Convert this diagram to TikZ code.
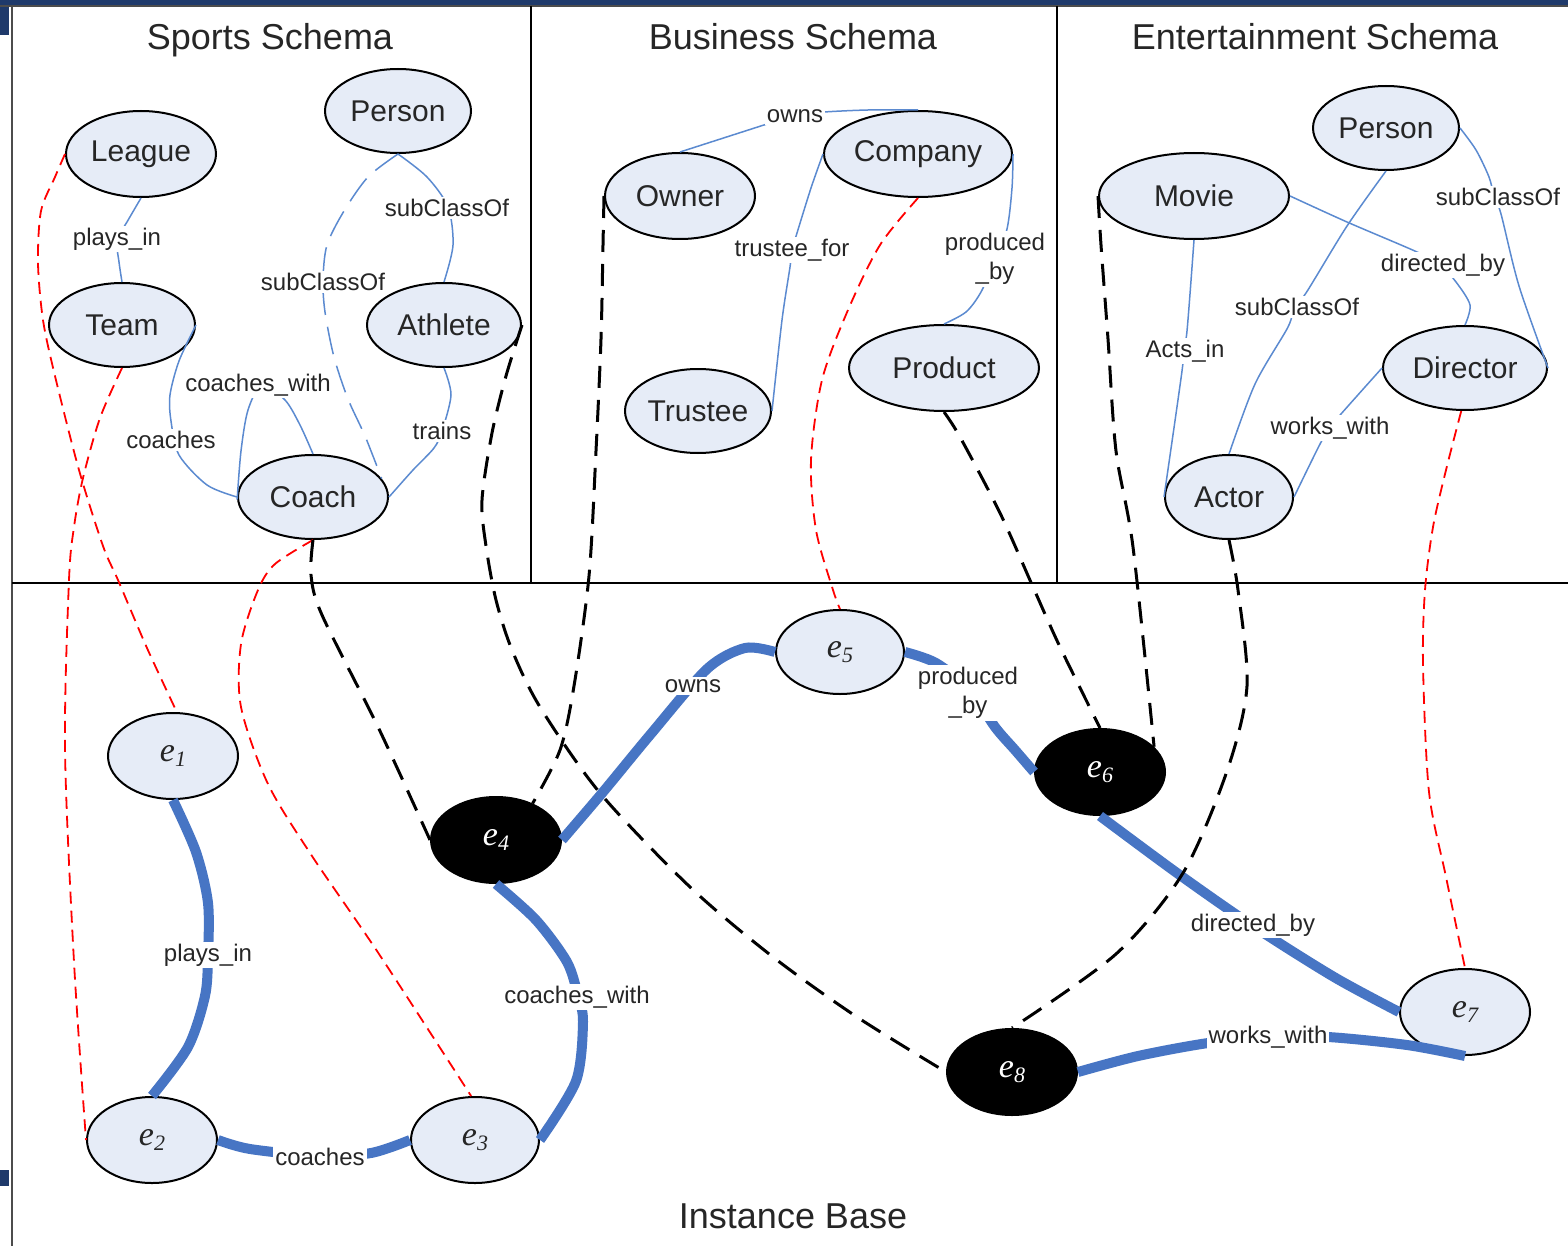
\documentclass[tikz,border=0pt]{standalone}
\usepackage{fontspec}
\setmainfont{Liberation Sans}
\newfontfamily\serifit{Liberation Serif}
\usetikzlibrary{shapes.geometric}
\definecolor{nodefill}{HTML}{E6ECF7}
\definecolor{sblue}{HTML}{5B8AD0}
\definecolor{tblue}{HTML}{4775C4}
\definecolor{navy}{HTML}{1F3A6B}
\definecolor{txt}{HTML}{262626}
\newcommand{\ei}[1]{e\raisebox{-0.3ex}{\fontsize{11}{12}\selectfont #1}}
\tikzset{
 sch/.style={ellipse, draw=black, line width=1pt, fill=nodefill, inner sep=0pt, font=\fontsize{15}{18}\selectfont, text=txt},
 inst/.style={sch, font=\fontsize{17}{19}\selectfont\serifit\itshape},
 blk/.style={inst, fill=black, text=white},
 sedge/.style={draw=sblue, line width=0.75pt},
 sdash/.style={sedge, dash pattern=on 14pt off 6pt},
 iedge/.style={draw=tblue, line width=5pt},
 redmap/.style={draw=red, line width=0.9pt, dash pattern=on 6pt off 3.5pt},
 blkmap/.style={draw=black, line width=1.5pt, dash pattern=on 11pt off 6pt},
 lbl/.style={fill=white, inner sep=1pt, font=\fontsize{12}{14.5}\selectfont, text=txt, align=center},
 ttl/.style={font=\fontsize{18}{20}\selectfont, text=txt, anchor=base},
}
\begin{document}
\begin{tikzpicture}[x=0.5pt,y=-0.5pt]
\useasboundingbox[fill=white] (0,0) rectangle (1568,1246);
% frame
\fill[navy] (0,0) rectangle (1568,5);
\fill[navy] (0,0) rectangle (9,35);
\fill[navy] (0,1170) rectangle (9,1186);
\draw[gray!60!black, line width=1pt] (0,6) -- (1568,6);
\draw[gray!60!black, line width=1.2pt] (12,6) -- (12,1246);
\draw[black, line width=1pt] (531,6) -- (531,583);
\draw[black, line width=1pt] (1057,6) -- (1057,583);
\draw[black, line width=1pt] (12,583) -- (1568,583);
% titles
\node[ttl] (t1) at (270,50) {Sports Schema};
\node[ttl] (t2) at (793,50) {Business Schema};
\node[ttl] (t3) at (1315,50) {Entertainment Schema};
\node[ttl] (t4) at (793,1228) {Instance Base};
% schema nodes
\node[sch, minimum width=75pt, minimum height=43pt] (league) at (141,154) {League};
\node[sch, minimum width=73pt, minimum height=42pt] (personS) at (398,111) {Person};
\node[sch, minimum width=73pt, minimum height=42pt] (team) at (122,325) {Team};
\node[sch, minimum width=77pt, minimum height=42pt] (athlete) at (444,325) {Athlete};
\node[sch, minimum width=75pt, minimum height=42pt] (coach) at (313,497) {Coach};
\node[sch, minimum width=75pt, minimum height=43pt] (owner) at (680,196) {Owner};
\node[sch, minimum width=94pt, minimum height=43pt] (company) at (918,154) {Company};
\node[sch, minimum width=73pt, minimum height=42pt] (trustee) at (698,411) {Trustee};
\node[sch, minimum width=95pt, minimum height=43pt] (product) at (944,368) {Product};
\node[sch, minimum width=73pt, minimum height=42pt] (personE) at (1386,128) {Person};
\node[sch, minimum width=95pt, minimum height=43pt] (movie) at (1194,196) {Movie};
\node[sch, minimum width=82pt, minimum height=42pt] (director) at (1465,368) {Director};
\node[sch, minimum width=64pt, minimum height=42pt] (actor) at (1229,497) {Actor};
% instance nodes
\node[inst, minimum width=65pt, minimum height=43pt] (e1) at (173,756) {\ei{1}};
\node[inst, minimum width=65pt, minimum height=43pt] (e2) at (152,1140) {\ei{2}};
\node[inst, minimum width=64pt, minimum height=43pt] (e3) at (475,1140) {\ei{3}};
\node[blk, minimum width=65pt, minimum height=43pt] (e4) at (496,840) {\ei{4}};
\node[inst, minimum width=64pt, minimum height=42pt] (e5) at (840,652) {\ei{5}};
\node[blk, minimum width=65pt, minimum height=43pt] (e6) at (1100,772) {\ei{6}};
\node[inst, minimum width=65pt, minimum height=43pt] (e7) at (1465,1012) {\ei{7}};
\node[blk, minimum width=65pt, minimum height=43pt] (e8) at (1012,1072) {\ei{8}};
% schema edges
\draw[sedge] plot[smooth] coordinates {(league.south) (127,222) (117,240) (119,262) (team.north)};
\draw[sdash] plot[smooth] coordinates {(personS.south) (368,177) (344,211) (327,245) (323,280) (325,312) (334,357) (348,399) (365,436) (coach.15)};
\draw[sedge] plot[smooth] coordinates {(personS.south) (427,177) (448,207) (453,245) (athlete.north)};
\draw[sedge] plot[smooth] coordinates {(team.east) (179,361) (170,395) (171,421) (179,455) (207,485) (coach.west)};
\draw[sedge] plot[smooth] coordinates {(coach.182) (241,451) (248,410) (262,385) (285,400) (300,425) (coach.north)};
\draw[sedge] plot[smooth] coordinates {(athlete.south) (451,395) (442,431) (434,448) (413,470) (coach.east)};
\draw[sedge] plot[smooth] coordinates {(owner.north) (767,124) (795,115) (824,112) (868,110) (company.north)};
\draw[sedge] plot[smooth] coordinates {(company.west) (811,188) (797,233) (792,250) (790,267) (782,320) (trustee.east)};
\draw[sedge] plot[smooth] coordinates {(company.east) (1012,188) (1007,229) (995,260) (981,292) (966,312) (product.north)};
\draw[sedge] plot[smooth] coordinates {(personE.south) (1347,226) (1306,293) (1294,307) (1288,327) (1255,384) (actor.north)};
\draw[sedge] plot[smooth] coordinates {(personE.east) (1476,150) (1489,177) (1494,196) (1501,214) (1519,286) (director.east)};
\draw[sedge] plot[smooth] coordinates {(movie.east) (1347,222) (1417,252) (1440,265) (1456,282) (1470,305) (director.north)};
\draw[sedge] plot[smooth] coordinates {(movie.south) (1187,331) (1183,352) (1182,371) (actor.west)};
\draw[sedge] plot[smooth] coordinates {(director.west) (1341,414) (1329,429) (1319,446) (actor.east)};
% instance edges
\draw[iedge] plot[smooth] coordinates {(e1.south) (196,852) (208,903) (208,956) (205,996) (188,1047) (e2.north)};
\draw[iedge] plot[smooth] coordinates {(e2.east) (250,1149) (319,1156) (371,1153) (e3.west)};
\draw[iedge] plot[smooth] coordinates {(e4.south) (536,920) (567,962) (578,996) (583,1022) (576,1081) (e3.east)};
\draw[iedge] plot[smooth] coordinates {(e4.east) (603,792) (650,735) (707,669) (745,648) (e5.west)};
\draw[iedge] plot[smooth] coordinates {(e5.east) (936,663) (970,690) (995,727) (1015,750) (e6.west)};
\draw[iedge] plot[smooth] coordinates {(e6.south) (1177,873) (1253,926) (1334,977) (e7.west)};
\draw[iedge] plot[smooth] coordinates {(e8.east) (1138,1056) (1208,1043) (1269,1037) (1328,1037) (1407,1045) (e7.south)};
% red mappings
\draw[redmap] plot[smooth] coordinates {(league.west) (55,177) (41,211) (38,263) (43,320) (55,376) (79,470) (103,546) (118,580) (147,648) (e1.85)};
\draw[redmap] plot[smooth] coordinates {(team.south) (100,418) (83,478) (74,527) (69,580) (65,750) (74,962) (e2.west)};
\draw[redmap] plot[smooth] coordinates {(coach.south) (275,564) (258,590) (241,644) (241,707) (268,784) (312,856) (379,954) (e3.95)};
\draw[redmap] plot[smooth] coordinates {(company.south) (880,245) (848,310) (822,380) (811,460) (816,530) (833,590) (e5.north)};
\draw[redmap] plot[smooth] coordinates {(director.-95) (1446,470) (1433,527) (1425,590) (1423,665) (1429,792) (1446,877) (e7.north)};
% black mappings
\draw[blkmap] plot[smooth] coordinates {(athlete.east) (506,376) (492,433) (482,500) (486,546) (496,600) (512,650) (540,707) (600,793) (690,887) (773,957) (857,1017) (e8.west)};
\draw[blkmap] plot[smooth] coordinates {(owner.west) (603,245) (601,339) (596,451) (589,576) (574,686) (560,750) (e4.45)};
\draw[blkmap] plot[smooth] coordinates {(coach.south) (311,575) (322,615) (379,729) (e4.west)};
\draw[blkmap] plot[smooth] coordinates {(product.south) (960,437) (1000,513) (1033,587) (1060,647) (e6.north)};
\draw[blkmap] plot[smooth] coordinates {(movie.west) (1101,245) (1108,339) (1116,451) (1133,547) (e6.25)};
\draw[blkmap] plot[smooth] coordinates {(actor.south) (1238,590) (1247,686) (1227,771) (1183,873) (1116,954) (e8.north)};
% labels
\node[lbl] (l1) at (117,239) {plays\_in};
\node[lbl] (l2) at (447,208) {subClassOf};
\node[lbl] (l3) at (323,282) {subClassOf};
\node[lbl] (l4) at (258,385) {coaches\_with};
\node[lbl] (l5) at (171,440) {coaches};
\node[lbl] (l6) at (442,431) {trains};
\node[lbl] (l7) at (795,116) {owns};
\node[lbl] (l8) at (792,250) {trustee\_for};
\node[lbl] (l9) at (995,259) {produced\\\_by};
\node[lbl] (l10) at (1498,197) {subClassOf};
\node[lbl] (l11) at (1443,265) {directed\_by};
\node[lbl] (l12) at (1297,307) {subClassOf};
\node[lbl] (l13) at (1185,351) {Acts\_in};
\node[lbl] (l14) at (1330,428) {works\_with};
\node[lbl] (l15) at (208,955) {plays\_in};
\node[lbl] (l16) at (320,1157) {coaches};
\node[lbl] (l17) at (577,997) {coaches\_with};
\node[lbl] (l18) at (693,686) {owns};
\node[lbl] (l19) at (968,693) {produced\\\_by};
\node[lbl] (l20) at (1253,925) {directed\_by};
\node[lbl] (l21) at (1268,1037) {works\_with};
\end{tikzpicture}
\end{document}
